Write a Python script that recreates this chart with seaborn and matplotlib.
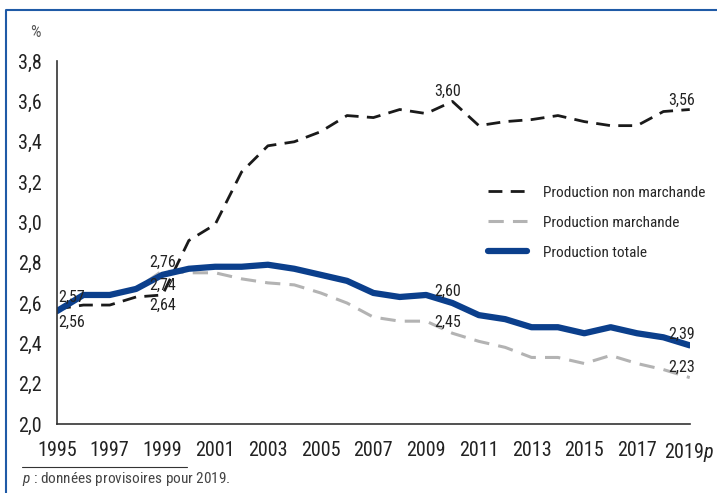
import pandas as pd
import matplotlib.pyplot as plt
import matplotlib.ticker as mticker
import seaborn as sns

years = list(range(1995, 2020))
non_marchande = [2.57, 2.59, 2.59, 2.63, 2.64, 2.91, 2.99, 3.25, 3.38, 3.40, 3.45, 3.53, 3.52,
                 3.56, 3.54, 3.60, 3.48, 3.50, 3.51, 3.53, 3.50, 3.48, 3.48, 3.55, 3.56]
marchande = [2.56, 2.64, 2.64, 2.67, 2.76, 2.75, 2.75, 2.72, 2.70, 2.69, 2.65, 2.60, 2.53,
             2.51, 2.51, 2.45, 2.41, 2.38, 2.33, 2.33, 2.30, 2.34, 2.30, 2.27, 2.23]
totale = [2.56, 2.64, 2.64, 2.67, 2.74, 2.77, 2.78, 2.78, 2.79, 2.77, 2.74, 2.71, 2.65,
          2.63, 2.64, 2.60, 2.54, 2.52, 2.48, 2.48, 2.45, 2.48, 2.45, 2.43, 2.39]
tick_years = list(range(1995, 2020, 2))
tick_labels = [str(y) for y in tick_years[:-1]] + ['2019$\\it{p}$']

sns.set_style("white")
plt.rcParams['font.family'] = ['Roboto Condensed', 'Liberation Sans Narrow', 'Roboto', 'DejaVu Sans']
plt.rcParams['mathtext.fontset'] = 'custom'
plt.rcParams['mathtext.it'] = 'Roboto Condensed:italic'
plt.rcParams['mathtext.rm'] = 'Roboto Condensed'

df = pd.DataFrame({'year': years, 'nm': non_marchande, 'm': marchande, 't': totale})

fig = plt.figure(figsize=(7.17, 4.93), dpi=100)
ax = fig.add_axes([0.0795, 0.14, 0.8825, 0.736])

sns.lineplot(data=df, x='year', y='nm', ax=ax, color='#1a1a1a', lw=2,
             label='Production non marchande').lines[-1].set_dashes([5, 3])
sns.lineplot(data=df, x='year', y='m', ax=ax, color='#b3b3b3', lw=2.2,
             label='Production marchande').lines[-1].set_dashes([5, 3])
sns.lineplot(data=df, x='year', y='t', ax=ax, color='#0b3f8c', lw=4.5,
             label='Production totale')

ax.set_xlim(1995, 2019)
ax.set_ylim(2.0, 3.8)
ax.set_yticks([2.0, 2.2, 2.4, 2.6, 2.8, 3.0, 3.2, 3.4, 3.6, 3.8])
ax.yaxis.set_major_formatter(mticker.FuncFormatter(lambda v, p: f'{v:.1f}'.replace('.', ',')))
ax.set_xticks(years, minor=True)
ax.set_xticks(tick_years)
ax.set_xticklabels(tick_labels)
ax.tick_params(axis='both', which='both', direction='out', color='#333333', width=1,
               labelsize=14.5, labelcolor='#222222')
ax.tick_params(axis='x', which='both', length=8, pad=4)
ax.tick_params(axis='y', length=7, pad=4)
ax.set_xlabel('')
ax.set_ylabel('')
for s in ['top', 'right']:
    ax.spines[s].set_visible(False)
for s in ['left', 'bottom']:
    ax.spines[s].set_color('#333333')
    ax.spines[s].set_linewidth(1.2)

# étiquettes de valeurs
lab = dict(fontsize=11.5, color='#222222')
ax.text(1995.05, 2.59, '2,57', ha='left', va='bottom', **lab)
ax.text(1995.05, 2.54, '2,56', ha='left', va='top', **lab)
ax.text(1999, 2.765, '2,76', ha='center', va='bottom', **lab)
ax.text(1999, 2.65, '2,74', ha='center', va='bottom', **lab)
ax.text(1999, 2.625, '2,64', ha='center', va='top', **lab)
ax.text(2009.8, 3.615, '3,60', ha='center', va='bottom', **lab)
ax.text(2018.7, 3.57, '3,56', ha='center', va='bottom', **lab)
ax.text(2009.8, 2.62, '2,60', ha='center', va='bottom', **lab)
ax.text(2009.8, 2.465, '2,45', ha='center', va='bottom', **lab)
ax.text(2018.7, 2.41, '2,39', ha='center', va='bottom', **lab)
ax.text(2018.7, 2.245, '2,23', ha='center', va='bottom', **lab)

leg = ax.legend(loc='upper left', bbox_to_anchor=(0.66, 0.695), frameon=False, fontsize=11,
                handlelength=2.5, labelspacing=1.05, handletextpad=1.1)

fig.text(0.05, 0.925, '%', fontsize=12, color='#555555', ha='center')
fig.add_artist(plt.Line2D([0.031, 0.261], [0.053, 0.053], color='#333333', lw=0.8))
fig.text(0.031, 0.02, '$\\it{p}$ : données provisoires pour 2019.', fontsize=11, color='#444444')

# cadre bleu
fig.add_artist(plt.Line2D([0.008, 0.008, 1.0], [0.0, 0.98, 0.98], color='#1f5aa6', lw=1.5))

fig.savefig('out.png', dpi=100)
